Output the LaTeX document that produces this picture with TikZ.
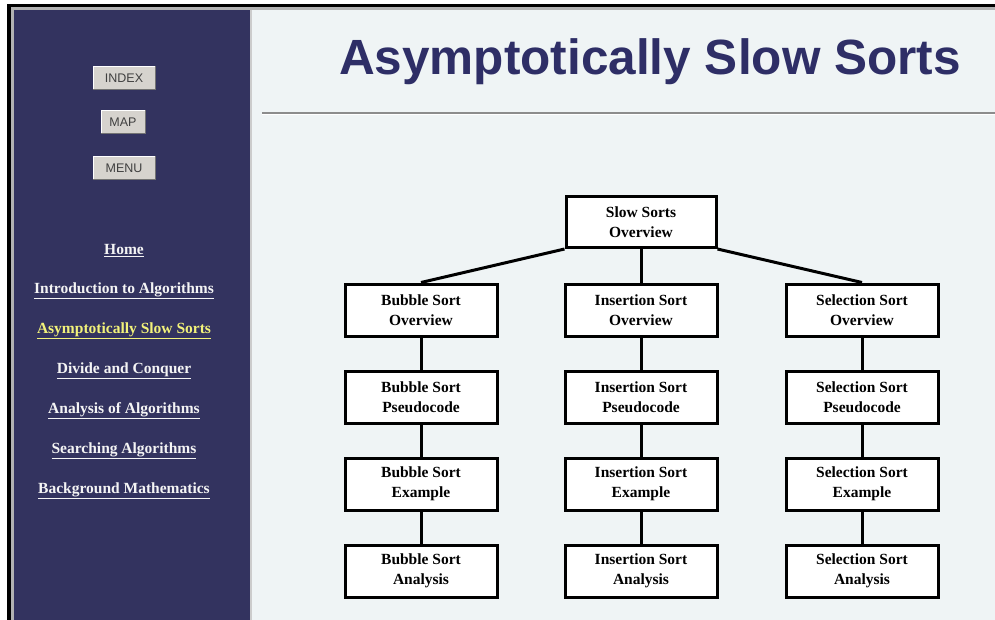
\documentclass[tikz,border=0pt]{standalone}
\usepackage{fontspec}
\setmainfont{Liberation Serif}
\newfontfamily\titlefont{Liberation Sans}
\definecolor{navy}{HTML}{33335F}
\definecolor{titlenavy}{HTML}{2E2E66}
\definecolor{pagebg}{HTML}{EFF4F5}
\definecolor{btnface}{HTML}{D6D3CE}
\definecolor{linkyellow}{HTML}{F2F27A}
\definecolor{linkwhite}{HTML}{F4F4F4}
\tikzset{
  sortbox/.style={draw=black, line width=3pt, fill=white, minimum width=152pt, minimum height=52pt, align=center, inner sep=2pt, font=\fontsize{15.5}{20.5}\selectfont\bfseries},
  conn/.style={line width=3pt, draw=black},
  btn/.style={fill=btnface, draw=white, line width=1pt, minimum height=23pt, inner sep=0pt, font=\titlefont\fontsize{12.5}{13}\selectfont, text=black!75},
  navlink/.style={font=\fontsize{15.5}{17}\selectfont\bfseries, text=linkwhite, inner sep=0pt},
}
\begin{document}
\begin{tikzpicture}[x=1pt,y=-1pt]
\useasboundingbox (0,0) rectangle (995,620);
% page
\fill[white] (0,0) rectangle (995,620);
\fill[pagebg] (14,10) rectangle (995,620);
\fill[black] (7,4) rectangle (995,7.5);
\fill[black] (7,4) rectangle (10.5,620);
\fill[black!30] (10.5,7.5) rectangle (995,10);
\fill[black!30] (10.5,7.5) rectangle (14,620);
\fill[navy] (14,10) rectangle (250,620);
\fill[black!20] (250,10) rectangle (252,620);
% buttons
\node[btn, minimum width=62pt] (index) at (124,78) {INDEX};
\node[btn, minimum width=44pt] (map) at (123,122) {MAP};
\node[btn, minimum width=62pt] (menu) at (124,168) {MENU};
\foreach \b in {index,map,menu}{
  \draw[black!55, line width=1pt] (\b.south west) -- (\b.south east) -- (\b.north east);
}
% navigation links
\node[navlink] (home) at (124,251) {\underline{Home}};
\node[navlink] (intro) at (124,291) {\underline{Introduction to Algorithms}};
\node[navlink, text=linkyellow] (slow) at (124,331) {\underline{Asymptotically Slow Sorts}};
\node[navlink] (divide) at (124,371) {\underline{Divide and Conquer}};
\node[navlink] (analysis) at (124,411) {\underline{Analysis of Algorithms}};
\node[navlink] (search) at (124,451) {\underline{Searching Algorithms}};
\node[navlink] (backg) at (124,491) {\underline{Background Mathematics}};
% title
\node[font=\titlefont\bfseries\fontsize{49.5}{55}\selectfont, text=titlenavy, inner sep=0pt, anchor=base] (title) at (650,75) {Asymptotically Slow Sorts};
\draw[black!45, line width=1.6pt] (262,113) -- (995,113);
\draw[white, line width=0.8pt] (262,114.6) -- (995,114.6);
% tree
\node[sortbox, minimum width=150pt, minimum height=51pt] (root) at (641,222) {Slow Sorts\\Overview};
\foreach \n/\x/\name in {b/421/Bubble, i/641/Insertion, s/862/Selection}{
  \node[sortbox] (\n1) at (\x,310) {\name\ Sort\\Overview};
  \node[sortbox] (\n2) at (\x,397) {\name\ Sort\\Pseudocode};
  \node[sortbox] (\n3) at (\x,484) {\name\ Sort\\Example};
  \node[sortbox] (\n4) at (\x,571) {\name\ Sort\\Analysis};
  \draw[conn] (\n1) -- (\n2);
  \draw[conn] (\n2) -- (\n3);
  \draw[conn] (\n3) -- (\n4);
}
\draw[conn] (root.south west) -- (b1.north);
\draw[conn] (root) -- (i1);
\draw[conn] (root.south east) -- (s1.north);
\end{tikzpicture}
\end{document}
